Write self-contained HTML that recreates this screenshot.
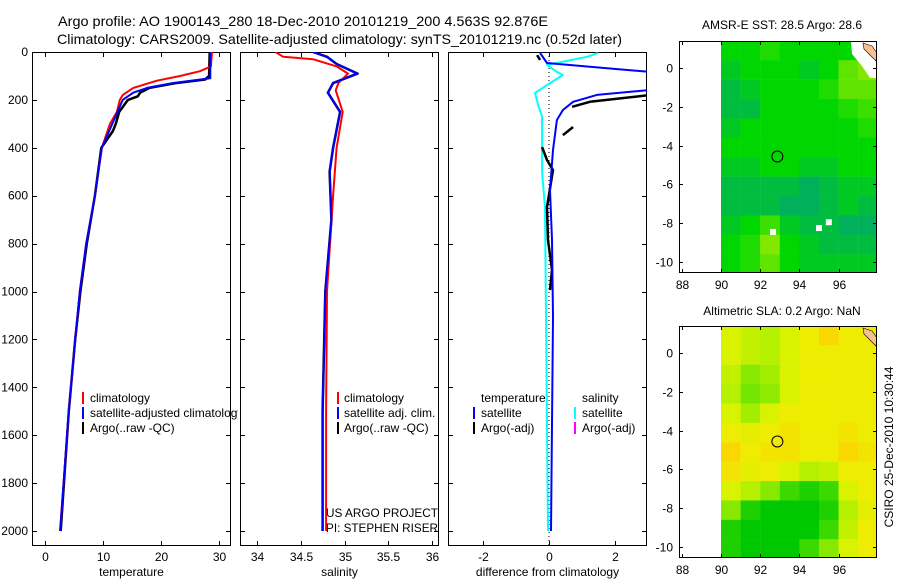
<!DOCTYPE html>
<html><head><meta charset="utf-8"><style>
html,body{margin:0;padding:0;background:#fff;}
svg{display:block;font-family:"Liberation Sans",sans-serif;}
</style></head><body>
<svg id="fig" width="900" height="580" viewBox="0 0 900 580" xmlns="http://www.w3.org/2000/svg">
<text x="58" y="26" font-size="14" textLength="490" lengthAdjust="spacingAndGlyphs">Argo profile: AO 1900143_280 18-Dec-2010 20101219_200 4.563S 92.876E</text>
<text x="57" y="44" font-size="14" textLength="565" lengthAdjust="spacingAndGlyphs">Climatology: CARS2009. Satellite-adjusted climatology: synTS_20101219.nc (0.52d later)</text>
<text x="782" y="29" font-size="12" text-anchor="middle">AMSR-E SST: 28.5 Argo: 28.6</text>
<text x="782" y="315" font-size="12" text-anchor="middle">Altimetric SLA: 0.2 Argo: NaN</text>
<text x="0" y="0" font-size="12" text-anchor="middle" transform="translate(893,447) rotate(-90)">CSIRO 25-Dec-2010 10:30:44</text>
<g id="plots"></g>
</svg>
<script>
// ---------- profile data ----------
const tempDepthClim = [0,60,80,100,120,150,180,200,250,300,400,600,800,1000,1200,1500,2000];
const tempClim      = [28.8,28.6,26.7,23.3,19.3,15.2,13.4,12.9,12.4,11.2,9.8,8.6,7.1,6.0,5.2,4.1,2.6];
const tempDepthSat  = [0,110,130,150,170,200,300,400,600,800,1000,1200,1500,2000];
const tempSat       = [28.5,28.5,22,17.6,15.2,13.4,11.6,9.8,8.6,7.1,6.0,5.2,4.1,2.6];
const tempDepthArgo = [0,100,115,130,150,170,185,200,250,300,330,400,600,800,1000,1200,1500,2000];
const tempArgo      = [28.4,28.3,27.6,22.5,18,16.4,16.0,14.3,12.8,12.2,11.7,9.7,8.6,7.2,6.1,5.2,4.1,2.7];
const salDepthClim = [0,20,30,60,90,130,160,250,400,600,1000,1500,2000];
const salClim      = [34.21,34.30,34.64,34.91,35.04,34.93,34.90,34.98,34.91,34.87,34.80,34.79,34.79];
const salDepthSat  = [0,20,50,90,130,170,250,400,500,700,1000,1500,2000];
const salSat       = [34.64,34.80,34.91,35.15,34.87,34.81,34.95,34.87,34.83,34.85,34.78,34.75,34.75];
const diffDepthSalSat = [4,20,54,83,96,130,171,221,270,505,647,1107,2000];
const diffSalSat      = [1.48,1.15,-0.06,0.24,0.42,0.03,-0.42,-0.33,-0.21,-0.21,-0.12,-0.09,-0.03];
const diffDepthTempSat = [4,46,62,88,120,158,179,208,242,284,409,576,785,1107,2000];
const diffTempSat      = [-0.27,-0.06,1.24,3.5,5,3.1,1.45,0.73,0.42,0.24,0.12,0.03,0.09,0.12,0.06];
const diffDepthTempArgo = [13,33,null,179,208,229,null,313,347,null,397,451,493,647,785,910,994];
const diffTempArgo      = [-0.36,-0.27,null,3.1,1.24,0.70,null,0.73,0.42,null,-0.21,-0.06,0.12,-0.06,-0.03,0.09,0.03];
const depthTicks = [0,200,400,600,800,1000,1200,1400,1600,1800,2000];
const tempTicks = [0,10,20,30];
const salTicks = [34,34.5,35,35.5,36];
const diffTicks = [-2,0,2];
// ---------- map data (rows lat 1.4 -> -10.6, cols lon 90..97) ----------
const mapLons = [90,91,92,93,94,95,96,97];
const mapLats = [1.4,0.4,-0.6,-1.6,-2.6,-3.6,-4.6,-5.6,-6.6,-7.6,-8.6,-9.6];
const sstGrid = [
[28.5,28.5,28.6,28.5,28.5,28.5,28.5,28.9],
[28.4,28.5,28.5,28.5,28.4,28.5,28.8,28.9],
[28.3,28.4,28.5,28.5,28.5,28.6,28.8,28.8],
[28.3,28.3,28.5,28.5,28.5,28.5,28.6,28.7],
[28.4,28.5,28.5,28.5,28.5,28.5,28.5,28.6],
[28.5,28.5,28.5,28.5,28.5,28.5,28.5,28.5],
[28.4,28.4,28.5,28.5,28.4,28.4,28.5,28.5],
[28.3,28.3,28.3,28.3,28.2,28.3,28.4,28.4],
[28.3,28.3,28.3,28.2,28.2,28.3,28.4,28.3],
[28.4,28.5,28.7,28.4,28.3,28.3,28.2,28.2],
[28.5,28.6,28.9,28.5,28.4,28.3,28.3,28.3],
[28.5,28.6,28.8,28.5,28.4,28.4,28.4,28.4]];
const slaGrid = [
[0.15,0.12,0.10,0.15,0.2,0.25,0.2,0.2],
[0.15,0.12,0.1,0.15,0.2,0.2,0.2,0.2],
[0.12,0.05,0.08,0.15,0.2,0.2,0.2,0.2],
[0.1,0.03,0.06,0.15,0.2,0.2,0.2,0.2],
[0.15,0.08,0.15,0.2,0.2,0.2,0.2,0.2],
[0.2,0.18,0.2,0.22,0.2,0.2,0.22,0.2],
[0.25,0.2,0.22,0.22,0.2,0.2,0.25,0.22],
[0.22,0.18,0.2,0.15,0.1,0.12,0.2,0.2],
[0.15,0.1,0.05,-0.05,-0.1,-0.05,0.15,0.2],
[0.05,-0.1,-0.15,-0.15,-0.15,-0.1,0.1,0.18],
[-0.1,-0.15,-0.2,-0.2,-0.15,-0.05,0.12,0.2],
[-0.1,-0.15,-0.15,-0.15,-0.05,0.05,0.15,0.2]];
const argoLon = 92.876, argoLat = -4.563;
const mapLonTicks = [88,90,92,94,96];
const mapLatTicks = [0,-2,-4,-6,-8,-10];

const NS='http://www.w3.org/2000/svg';
const root=document.getElementById('plots');
function el(tag,attrs,parent){const e=document.createElementNS(NS,tag);for(const k in attrs)e.setAttribute(k,attrs[k]);(parent||root).appendChild(e);return e;}
function txt(x,y,s,size,anchor,parent){const t=el('text',{x:x,y:y,'font-size':size,'text-anchor':anchor||'start'},parent);t.textContent=s;return t;}

const T=52,B=546;
const yD=d=>52+d*0.2395;
const panels=[
 {name:'temperature',L:32,R:231,x:v=>45+v*5.8,ticks:tempTicks,label:'temperature'},
 {name:'salinity',L:240,R:439,x:v=>257+(v-34)*87.5,ticks:salTicks,label:'salinity'},
 {name:'difference',L:448,R:647,x:v=>549+v*33,ticks:diffTicks,label:'difference from climatology'}];

panels.forEach((p,i)=>{
 const g=el('g',{});
 
 
 const cp=el('clipPath',{id:'clip'+i},g);
 el('rect',{x:p.L,y:T,width:p.R-p.L,height:B-T},cp);
 p.g=g;p.clip='url(#clip'+i+')';
 const fr=el('rect',{x:p.L+0.5,y:T+0.5,width:p.R-p.L-1,height:B-T-1,fill:'none',stroke:'#000','stroke-width':1},g);
 
 
 p.ticks.forEach(v=>{const x=Math.round(p.x(v))+0.5;
  el('line',{x1:x,x2:x,y1:B,y2:B-5,stroke:'#000'},g);
  el('line',{x1:x,x2:x,y1:T,y2:T+5,stroke:'#000'},g);
  const t=txt(x,561,String(v),12,'middle',g);
  
  });
 depthTicks.forEach(d=>{const y=Math.round(yD(d))+0.5;
  el('line',{x1:p.L,x2:p.L+5,y1:y,y2:y,stroke:'#000'},g);
  el('line',{x1:p.R-5,x2:p.R,y1:y,y2:y,stroke:'#000'},g);});
 const xl=txt((p.L+p.R)/2,576,p.label,12,'middle',g);
 
 
});
depthTicks.forEach(d=>{const t=txt(28,yD(d)+4,String(d),12,'end');
 
 });

function line(p,depths,vals,color,w,name){
 let d='',pen=false;
 for(let i=0;i<depths.length;i++){
  if(depths[i]===null||vals[i]===null){pen=false;continue;}
  d+=(pen?'L':'M')+p.x(vals[i]).toFixed(1)+' '+yD(depths[i]).toFixed(1);pen=true;}
 const e=el('path',{d:d,fill:'none',stroke:color,'stroke-width':w,'clip-path':p.clip,'stroke-linejoin':'round'},p.g);
 
 
}
const [pT,pS,pD]=panels;
line(pT,tempDepthArgo,tempArgo,'#000',2.5,'temperature-argo-line');
line(pT,tempDepthClim,tempClim,'#f00',2,'temperature-climatology-line');
line(pT,tempDepthSat,tempSat,'#00f',2,'temperature-satellite-line');
line(pS,salDepthSat,salSat,'#000',2.5,'salinity-argo-line');
line(pS,salDepthClim,salClim,'#f00',2,'salinity-climatology-line');
line(pS,salDepthSat,salSat,'#00f',2,'salinity-satellite-line');
const zl=el('line',{x1:pD.x(0),x2:pD.x(0),y1:T,y2:B,stroke:'#000','stroke-dasharray':'1 3'},pD.g);


line(pD,diffDepthSalSat,diffSalSat,'#0ff',2,'salinity-satellite-diff-line');
line(pD,diffDepthTempArgo,diffTempArgo,'#000',2.5,'temperature-argo-diff-line');
line(pD,diffDepthTempSat,diffTempSat,'#00f',2,'temperature-satellite-diff-line');

// legends
function legend(g,mx,tx,y,color,label,name,clipW){
 const r=el('rect',{x:mx,y:y-10,width:2,height:12,fill:color},g);
 
 
 if(label){const t=txt(tx,y,label,12,'start',g);
  if(clipW)t.setAttribute('clip-path',clipW);
  
  }
}
const lc=el('clipPath',{id:'legclip'});el('rect',{x:0,y:0,width:238,height:580},lc);
legend(pT.g,82,90,402,'#f00','climatology','legend-temp-climatology');
legend(pT.g,82,90,417,'#00f','satellite-adjusted climatology','legend-temp-satellite','url(#legclip)');
legend(pT.g,82,90,432,'#000','Argo(..raw -QC)','legend-temp-argo');
legend(pS.g,337,344,402,'#f00','climatology','legend-sal-climatology');
legend(pS.g,337,344,417,'#00f','satellite adj. clim.','legend-sal-satellite');
legend(pS.g,337,344,432,'#000','Argo(..raw -QC)','legend-sal-argo');
let t1=txt(481,402,'temperature',12,'start',pD.g);
let t2=txt(582,402,'salinity',12,'start',pD.g);
legend(pD.g,473,481,417,'#00f','satellite','legend-diff-temp-satellite');
legend(pD.g,473,481,432,'#000','Argo(-adj)','legend-diff-temp-argo');
legend(pD.g,574,582,417,'#0ff','satellite','legend-diff-sal-satellite');
legend(pD.g,574,582,432,'#f0f','Argo(-adj)','legend-diff-sal-argo');
let a1=el('text',{x:326,y:517,'font-size':12,textLength:112,lengthAdjust:'spacingAndGlyphs'},pS.g);a1.textContent='US ARGO PROJECT';
let a2=el('text',{x:326,y:532,'font-size':12,textLength:112,lengthAdjust:'spacingAndGlyphs'},pS.g);a2.textContent='PI: STEPHEN RISER';

// ---------- maps ----------
function rgb(a){return 'rgb('+a.join(',')+')';}
function lerpColor(stops,v){
 if(v<=stops[0][0])return rgb(stops[0][1]);
 for(let i=1;i<stops.length;i++){if(v<=stops[i][0]){const a=stops[i-1],b=stops[i];const f=(v-a[0])/(b[0]-a[0]);
  return rgb([0,1,2].map(k=>Math.round(a[1][k]+(b[1][k]-a[1][k])*f)));}}
 return rgb(stops[stops.length-1][1]);
}
const sstStops=[[28.2,[0,176,90]],[28.35,[0,195,50]],[28.5,[0,214,0]],[28.7,[60,224,0]],[28.9,[130,232,0]]];
const slaStops=[[-0.15,[0,200,0]],[0,[90,225,0]],[0.1,[180,240,0]],[0.15,[216,242,0]],[0.2,[238,236,0]],[0.25,[248,216,0]]];
function map(top,grid,stops,name){
 const L=679,R=877,Bt=top+232;
 const x=lon=>721+(lon-90)*19.6;
 const y=lat=>top+27+(0-lat)*19.4;
 const g=el('g',{});
 
 
 const cp=el('clipPath',{id:name+'clip'},g);el('rect',{x:L,y:top,width:R-L,height:Bt-top},cp);
 const cg=el('g',{'clip-path':'url(#'+name+'clip)'},g);
 grid.forEach((row,r)=>row.forEach((v,c)=>{
  const x0=x(mapLons[c]),y0=y(mapLats[r]);
  const cell=el('rect',{x:x0,y:y0,width:19.8,height:19.6,fill:lerpColor(stops,v)},cg);
  
  
 }));
 if(name==='sst'){
  el('polygon',{points:'851,41 877,41 877,78 870,78 862,66 852,54',fill:'#fff'},cg);
  [[92.65,-8.45],[95.0,-8.25],[95.5,-7.95]].forEach(p=>el('rect',{x:x(p[0])-3,y:y(p[1])-3,width:6,height:6,fill:'#fff'},cg));
 }
 const land=el('path',{d:'M863 '+(top+2)+' L872 '+(top+5)+' L877 '+(top+12)+' L876 '+(top+20)+' L870 '+(top+14)+' L864 '+(top+8)+' Z',fill:'#f8c090',stroke:'#000','stroke-width':0.6},cg);
 
 
 const c=el('circle',{cx:x(argoLon),cy:y(argoLat),r:5.5,fill:'none',stroke:'#000','stroke-width':1},g);
 
 
 el('rect',{x:L+0.5,y:top+0.5,width:R-L-1,height:Bt-top-1,fill:'none',stroke:'#000'},g);
 mapLonTicks.forEach(v=>{const xx=Math.round(x(v))+0.5;
  el('line',{x1:xx,x2:xx,y1:Bt,y2:Bt-4,stroke:'#000'},g);el('line',{x1:xx,x2:xx,y1:top,y2:top+4,stroke:'#000'},g);
  const t=txt(xx,Bt+16,String(v),12,'middle',g);
  
  });
 mapLatTicks.forEach(v=>{const yy=Math.round(y(v))+0.5;
  el('line',{x1:L,x2:L+4,y1:yy,y2:yy,stroke:'#000'},g);el('line',{x1:R-4,x2:R,y1:yy,y2:yy,stroke:'#000'},g);
  const t=txt(L-6,yy+4,String(v),12,'end',g);
  
  });
}
map(41,sstGrid,sstStops,'sst');
map(326,slaGrid,slaStops,'sla');
</script>
</body></html>
